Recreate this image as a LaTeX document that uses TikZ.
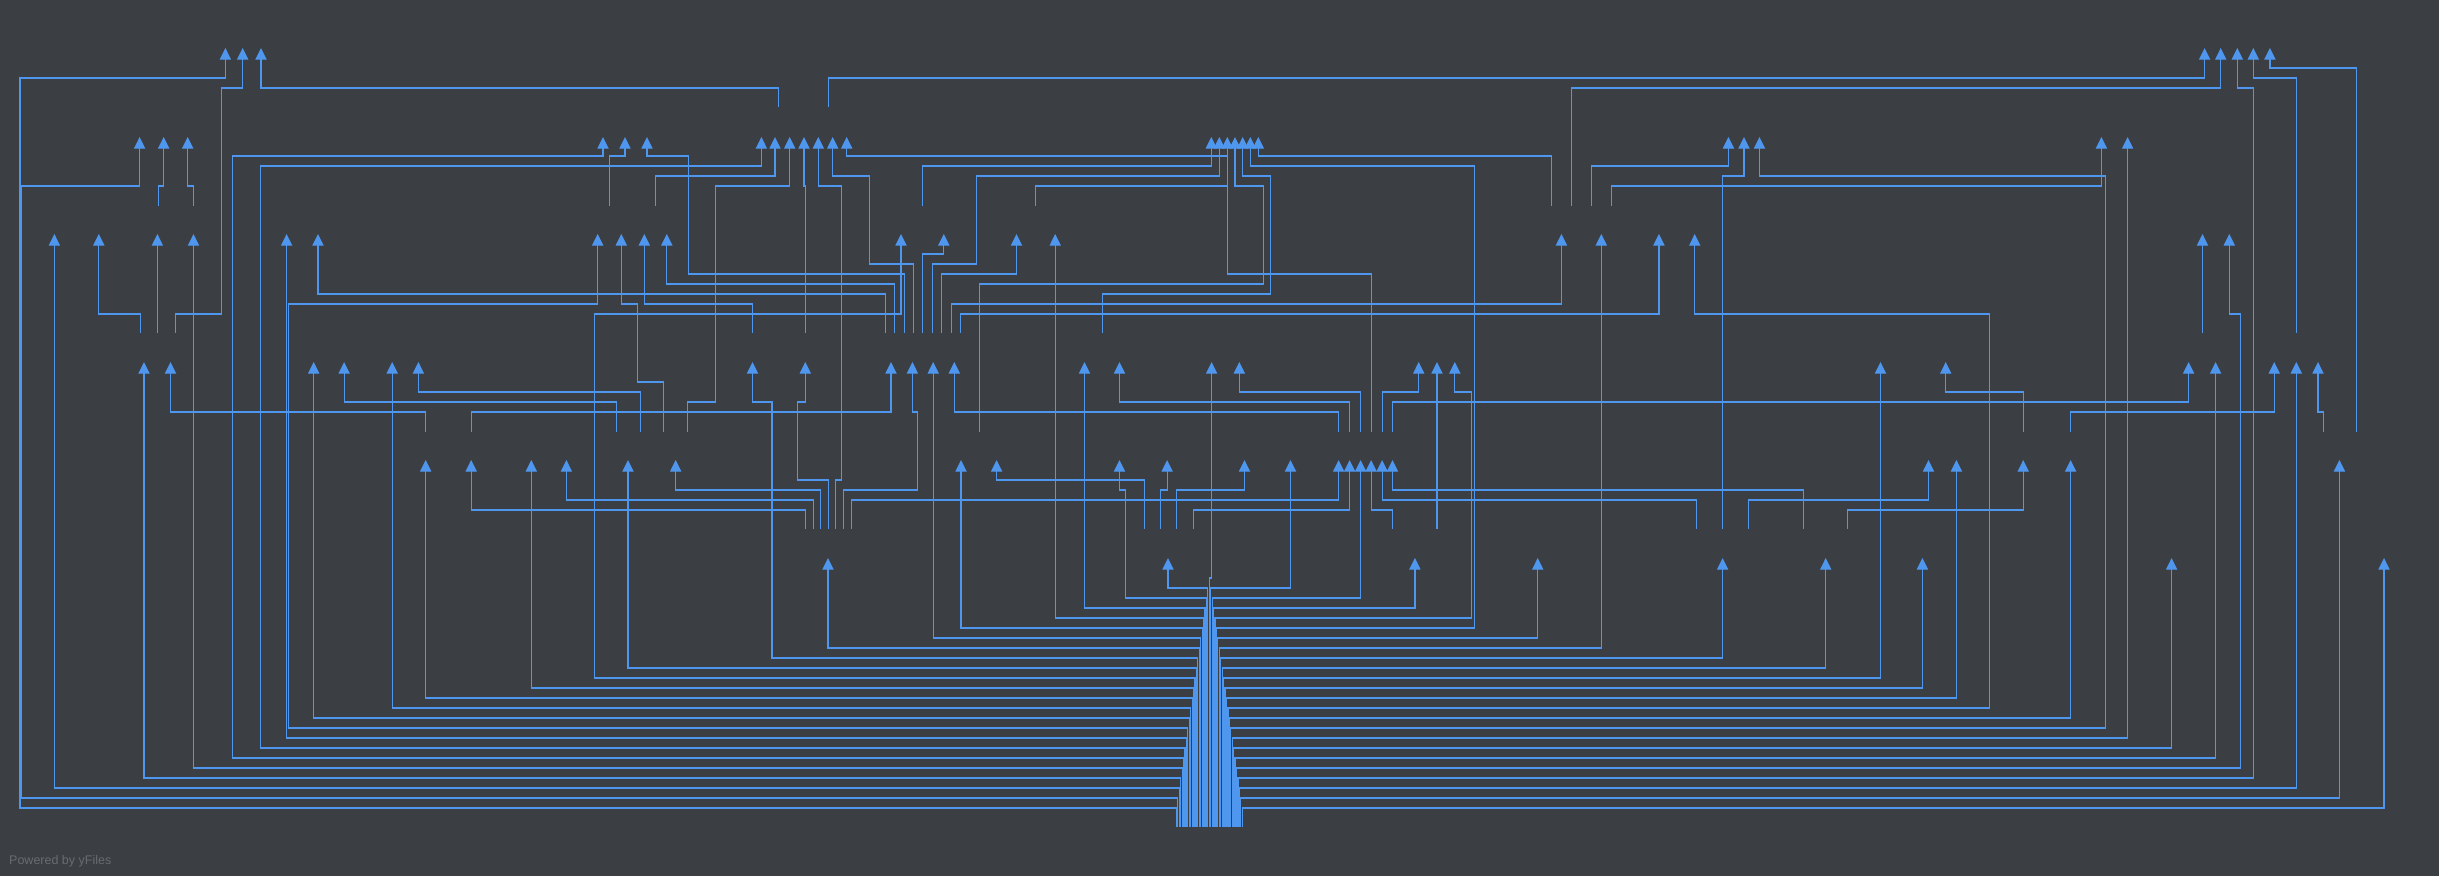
\documentclass[tikz,border=0pt]{standalone}
\usepackage{fontspec}
\setmainfont{Liberation Sans}
\usetikzlibrary{arrows.meta}
\definecolor{bgc}{HTML}{3B3E42}
\definecolor{eb}{HTML}{4F96EE}
\definecolor{wm}{HTML}{686C70}
\begin{document}
\begin{tikzpicture}[x=1pt,y=-1pt,
  ed/.style={draw=eb,line width=1.2pt,line join=miter,-{Triangle[width=11.2pt,length=11.6pt]}}]
\fill[bgc] (0,0) rectangle (2439,876);
\useasboundingbox (0,0) rectangle (2439,876);
% ---------- fan from bottom node, left side ----------
\draw[ed] (1207.87,827) |- (1168,588) -- (1168,558);
\draw[ed] (1206.44,827) |- (1125.1,598) |- (1119.5,490) -- (1119.5,460);
\draw[ed] (1205.01,827) |- (1084.5,608) -- (1084.5,362);
\draw[ed] (1203.58,827) |- (1055.2,618) -- (1055.2,234);
\draw[ed] (1202.15,827) |- (961,628) -- (961,460);
\draw[ed] (1200.72,827) |- (933.2,638) -- (933.2,362);
\draw[ed] (1199.29,827) |- (828,648) -- (828,558);
\draw[ed] (1197.86,827) |- (771.9,658) |- (752.5,402) -- (752.5,362);
\draw[ed] (1196.43,827) |- (628,668) -- (628,460);
\draw[ed] (1195.00,827) |- (594.6,678) |- (901,314) -- (901,234);
\draw[ed] (1193.57,827) |- (531.3,688) -- (531.3,460);
\draw[ed] (1192.14,827) |- (425.7,698) -- (425.7,460);
\draw[ed] (1190.71,827) |- (392.2,708) -- (392.2,362);
\draw[ed] (1189.28,827) |- (313.7,718) -- (313.7,362);
\draw[ed] (1187.85,827) |- (288.1,728) |- (597.7,304) -- (597.7,234);
\draw[ed] (1186.42,827) |- (286.6,738) -- (286.6,234);
\draw[ed] (1184.99,827) |- (260.4,748) |- (761.4,166) -- (761.4,137);
\draw[ed] (1183.56,827) |- (232.7,758) |- (603,156) -- (603,137);
\draw[ed] (1182.13,827) |- (193.5,768) -- (193.5,234);
\draw[ed] (1180.70,827) |- (144,778) -- (144,362);
\draw[ed] (1179.27,827) |- (54.4,788) -- (54.4,234);
\draw[ed] (1177.84,827) |- (20.9,798) |- (139.6,186) -- (139.6,137);
\draw[ed] (1176.41,827) |- (19.9,808) |- (225.4,78) -- (225.4,48);
% ---------- center ----------
\draw[ed] (1209.3,827) -- (1209.3,578) -- (1211.6,578) -- (1211.6,362);
% ---------- fan, right side ----------
\draw[ed] (1210.73,827) |- (1290.5,588) -- (1290.5,460);
\draw[ed] (1212.16,827) |- (1360.6,598) -- (1360.6,460);
\draw[ed] (1213.59,827) |- (1414.9,608) -- (1414.9,558);
\draw[ed] (1215.02,827) |- (1471.6,618) |- (1454.8,392) -- (1454.8,362);
\draw[ed] (1216.45,827) |- (1474.2,628) |- (1250.3,166) -- (1250.3,137);
\draw[ed] (1217.88,827) |- (1537.7,638) -- (1537.7,558);
\draw[ed] (1219.31,827) |- (1601.3,648) -- (1601.3,234);
\draw[ed] (1220.74,827) |- (1722.6,658) -- (1722.6,558);
\draw[ed] (1222.17,827) |- (1825.7,668) -- (1825.7,558);
\draw[ed] (1223.60,827) |- (1880.5,678) -- (1880.5,362);
\draw[ed] (1225.03,827) |- (1922.4,688) -- (1922.4,558);
\draw[ed] (1226.46,827) |- (1956.4,698) -- (1956.4,460);
\draw[ed] (1227.89,827) |- (1989.3,708) |- (1694.7,314) -- (1694.7,234);
\draw[ed] (1229.32,827) |- (2070.6,718) -- (2070.6,460);
\draw[ed] (1230.75,827) |- (2105.6,728) |- (1759.5,176) -- (1759.5,137);
\draw[ed] (1232.18,827) |- (2127.6,738) -- (2127.6,137);
\draw[ed] (1233.61,827) |- (2171.6,748) -- (2171.6,558);
\draw[ed] (1235.04,827) |- (2215.6,758) -- (2215.6,362);
\draw[ed] (1236.47,827) |- (2240.4,768) |- (2229.3,314) -- (2229.3,234);
\draw[ed] (1237.90,827) |- (2253.5,778) |- (2237.3,88) -- (2237.3,48);
\draw[ed] (1239.33,827) |- (2296.3,788) -- (2296.3,362);
\draw[ed] (1240.76,827) |- (2339.4,798) -- (2339.4,460);
\draw[ed] (1242.19,827) |- (2384,808) -- (2384,558);
% ---------- row 1 targets ----------
\draw[ed] (175.7,333) |- (221.7,314) |- (242.7,88) -- (242.7,48);
\draw[ed] (778.7,107) |- (261,88) -- (261,48);
\draw[ed] (828.5,107) |- (2204.6,78) -- (2204.6,48);
\draw[ed] (1571.5,206) |- (2220.7,88) -- (2220.7,48);
\draw[ed] (2296.7,333) |- (2253.3,78) -- (2253.3,48);
\draw[ed] (2356.6,432) |- (2269.9,68) -- (2269.9,48);
% ---------- row 2 targets ----------
\draw[ed] (158.5,206) |- (163.7,186) -- (163.7,137);
\draw[ed] (193.5,206) |- (187.7,186) -- (187.7,137);
\draw[ed] (609.8,206) |- (625,156) -- (625,137);
\draw[ed] (904.6,333) |- (688.7,274) |- (647,156) -- (647,137);
\draw[ed] (655.3,206) |- (775,176) -- (775,137);
\draw[ed] (687.2,432) |- (715.4,402) |- (789.7,186) -- (789.7,137);
\draw[ed] (805.3,333) |- (804,186) -- (804,137);
\draw[ed] (835.6,529) |- (841.3,480) |- (818.3,186) -- (818.3,137);
\draw[ed] (913.3,333) |- (869.3,264) |- (832.7,176) -- (832.7,137);
\draw[ed] (1371.6,432) |- (1227.3,274) |- (846.7,156) -- (846.7,137);
\draw[ed] (922.4,206) |- (1211.3,166) -- (1211.3,137);
\draw[ed] (932.3,333) |- (976.2,264) |- (1219.3,176) -- (1219.3,137);
\draw[ed] (1035.3,206) |- (1227.3,186) -- (1227.3,137);
\draw[ed] (979.4,432) |- (1263.3,284) |- (1235,186) -- (1235,137);
\draw[ed] (1102.3,333) |- (1270.7,294) |- (1242.7,176) -- (1242.7,137);
\draw[ed] (1551.5,206) |- (1258.3,156) -- (1258.3,137);
\draw[ed] (1591.2,206) |- (1728.4,166) -- (1728.4,137);
\draw[ed] (1722.5,529) |- (1744,176) -- (1744,137);
\draw[ed] (1611.2,206) |- (2101.4,186) -- (2101.4,137);
% ---------- row 3 targets ----------
\draw[ed] (140.7,333) |- (98.8,314) -- (98.8,234);
\draw[ed] (157.4,333) -- (157.4,234);
\draw[ed] (885.2,333) |- (318,294) -- (318,234);
\draw[ed] (663.6,432) |- (637.5,382) |- (621.3,304) -- (621.3,234);
\draw[ed] (752.5,333) |- (644.3,304) -- (644.3,234);
\draw[ed] (894.7,333) |- (666.8,284) -- (666.8,234);
\draw[ed] (922.4,333) |- (943.8,254) -- (943.8,234);
\draw[ed] (941.2,333) |- (1016.5,274) -- (1016.5,234);
\draw[ed] (951.7,333) |- (1561.4,304) -- (1561.4,234);
\draw[ed] (960.5,333) |- (1658.9,314) -- (1658.9,234);
\draw[ed] (2202.5,333) -- (2202.5,234);
% ---------- row 4 targets ----------
\draw[ed] (425.7,432) |- (170.5,412) -- (170.5,362);
\draw[ed] (616.6,432) |- (344.1,402) -- (344.1,362);
\draw[ed] (640.6,432) |- (418.4,392) -- (418.4,362);
\draw[ed] (828.8,529) |- (797.5,480) |- (805.3,402) -- (805.3,362);
\draw[ed] (471.7,432) |- (891,412) -- (891,362);
\draw[ed] (843.4,529) |- (917.7,490) |- (912.4,412) -- (912.4,362);
\draw[ed] (1338.6,432) |- (954.3,412) -- (954.3,362);
\draw[ed] (1349.6,432) |- (1119.5,402) -- (1119.5,362);
\draw[ed] (1360.6,432) |- (1239.3,392) -- (1239.3,362);
\draw[ed] (1382.6,432) |- (1418.7,392) -- (1418.7,362);
\draw[ed] (1437,529) -- (1437,362);
\draw[ed] (2023.2,432) |- (1945.7,392) -- (1945.7,362);
\draw[ed] (1392.5,432) |- (2188.6,402) -- (2188.6,362);
\draw[ed] (2070.3,432) |- (2274.2,412) -- (2274.2,362);
\draw[ed] (2323.4,432) |- (2318,412) -- (2318,362);
% ---------- row 5 targets ----------
\draw[ed] (805.3,529) |- (471.2,510) -- (471.2,460);
\draw[ed] (813.5,529) |- (566.4,500) -- (566.4,460);
\draw[ed] (820.4,529) |- (675.7,490) -- (675.7,460);
\draw[ed] (1144.6,529) |- (996.6,480) -- (996.6,460);
\draw[ed] (1160.3,529) |- (1167.1,490) -- (1167.1,460);
\draw[ed] (1176.5,529) |- (1244.5,490) -- (1244.5,460);
\draw[ed] (851.2,529) |- (1338.6,500) -- (1338.6,460);
\draw[ed] (1193.3,529) |- (1349.6,510) -- (1349.6,460);
\draw[ed] (1392.5,529) |- (1371.1,510) -- (1371.1,460);
\draw[ed] (1696.3,529) |- (1382.1,500) -- (1382.1,460);
\draw[ed] (1803.3,529) |- (1392.5,490) -- (1392.5,460);
\draw[ed] (1748.2,529) |- (1928.5,500) -- (1928.5,460);
\draw[ed] (1847.2,529) |- (2023.2,510) -- (2023.2,460);
% ---------- watermark ----------
\node[anchor=base west,text=wm,font=\fontsize{12.5}{14}\selectfont,inner sep=0pt] (wmk) at (9,864) {Powered by yFiles};
\end{tikzpicture}
\end{document}
